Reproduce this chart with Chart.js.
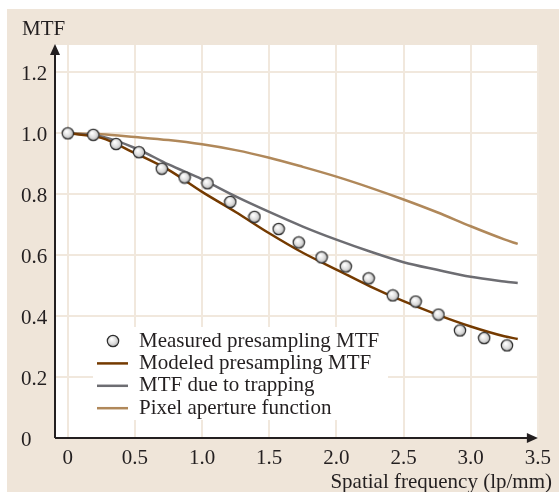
<!DOCTYPE html>
<html>
<head>
<meta charset="utf-8">
<title>MTF</title>
<script src="https://cdn.jsdelivr.net/npm/chart.js@4.4.1/dist/chart.umd.min.js"></script>
<style>
  body { margin: 0; background: #fff; }
  canvas { display: block; }
</style>
</head>
<body>
<canvas id="mtfChart" width="559" height="492"></canvas>
<script>
// Measured presampling MTF (circles)
const measuredX = [0, 0.19, 0.36, 0.53, 0.70, 0.87, 1.04, 1.21, 1.39, 1.57, 1.72, 1.89, 2.07, 2.24, 2.42, 2.59, 2.76, 2.92, 3.10, 3.27];
const measuredY = [1.00, 0.995, 0.965, 0.938, 0.884, 0.855, 0.836, 0.775, 0.726, 0.686, 0.642, 0.593, 0.563, 0.524, 0.468, 0.448, 0.405, 0.353, 0.328, 0.304];

// Curves, read at these frequencies
const curveX = [0, 0.25, 0.5, 0.75, 1.0, 1.25, 1.5, 1.75, 2.0, 2.25, 2.5, 2.75, 3.0, 3.25, 3.35];
const modeledY = [1.0, 0.985, 0.935, 0.88, 0.808, 0.742, 0.672, 0.608, 0.553, 0.498, 0.449, 0.405, 0.366, 0.334, 0.325];
const trappingY = [1.0, 0.99, 0.952, 0.898, 0.849, 0.793, 0.742, 0.694, 0.651, 0.612, 0.577, 0.552, 0.529, 0.514, 0.509];
const apertureY = [1.0, 0.997, 0.988, 0.978, 0.964, 0.945, 0.92, 0.89, 0.858, 0.822, 0.783, 0.741, 0.695, 0.652, 0.637];

const seriesLabels = ['Measured presampling MTF', 'Modeled presampling MTF', 'MTF due to trapping', 'Pixel aperture function'];
const xTicks = [0, 0.5, 1.0, 1.5, 2.0, 2.5, 3.0, 3.5];
const yTicks = [0, 0.2, 0.4, 0.6, 0.8, 1.0, 1.2];

const FONT = '"Liberation Serif", "Times New Roman", serif';
const INK = '#231f20';

function toPoints(xs, ys) {
    return xs.map((x, i) => ({ x: x, y: ys[i] }));
}

function tickText(v) {
    return v === 0 ? '0' : v.toFixed(1);
}

// shaded sphere marker
function makeMarker() {
    const c = document.createElement('canvas');
    c.width = 14;
    c.height = 14;
    const g = c.getContext('2d');
    const grad = g.createRadialGradient(5.5, 5, 0.5, 7, 7, 6);
    grad.addColorStop(0, '#ffffff');
    grad.addColorStop(0.6, '#dcdcdc');
    grad.addColorStop(1, '#a5a5a5');
    g.beginPath();
    g.arc(7, 7, 5.7, 0, Math.PI * 2);
    g.fillStyle = grad;
    g.fill();
    g.lineWidth = 1.2;
    g.strokeStyle = '#2e2e2e';
    g.stroke();
    return c;
}
const marker = makeMarker();

// beige frame and white plot area
const backdrop = {
    id: 'backdrop',
    beforeDraw(chart) {
        const ctx = chart.ctx;
        const a = chart.chartArea;
        ctx.save();
        ctx.fillStyle = '#efe5d9';
        ctx.fillRect(7, 9, chart.width - 7, chart.height - 9);
        ctx.fillStyle = '#ffffff';
        ctx.fillRect(a.left, a.top, a.right - a.left, a.bottom - a.top);
        ctx.restore();
    }
};

// axis lines with arrows, titles, legend box
const decorations = {
    id: 'decorations',
    beforeDatasetsDraw(chart) {
        const ctx = chart.ctx;
        const a = chart.chartArea;
        ctx.save();
        // legend backing
        ctx.fillStyle = '#ffffff';
        ctx.fillRect(93, 327, 295, 93);

        ctx.strokeStyle = INK;
        ctx.fillStyle = INK;
        ctx.lineWidth = 2;
        ctx.beginPath();
        ctx.moveTo(a.left, a.bottom);
        ctx.lineTo(a.left, a.top + 8);
        ctx.moveTo(a.left, a.bottom);
        ctx.lineTo(a.right - 8, a.bottom);
        ctx.stroke();
        ctx.beginPath();
        ctx.moveTo(a.left, a.top - 1);
        ctx.lineTo(a.left - 5, a.top + 10);
        ctx.lineTo(a.left + 5, a.top + 10);
        ctx.closePath();
        ctx.fill();
        ctx.beginPath();
        ctx.moveTo(a.right, a.bottom);
        ctx.lineTo(a.right - 11, a.bottom - 5);
        ctx.lineTo(a.right - 11, a.bottom + 5);
        ctx.closePath();
        ctx.fill();

        ctx.font = '21px ' + FONT;
        ctx.textBaseline = 'middle';
        ctx.textAlign = 'left';
        ctx.fillText('MTF', 22, 29);
        ctx.textAlign = 'right';
        ctx.fillText('Spatial frequency (lp/mm)', 552, 482);
        ctx.restore();
    },
    afterDatasetsDraw(chart) {
        const ctx = chart.ctx;
        ctx.save();
        ctx.font = '21px ' + FONT;
        ctx.textBaseline = 'middle';
        ctx.textAlign = 'left';
        chart.data.datasets.forEach((ds, i) => {
            const y = 341 + i * 22.4;
            if (ds.pointStyle instanceof HTMLCanvasElement) {
                ctx.drawImage(ds.pointStyle, 113 - 7, y - 7);
            } else {
                ctx.strokeStyle = ds.borderColor;
                ctx.lineWidth = 2.5;
                ctx.beginPath();
                ctx.moveTo(97, y);
                ctx.lineTo(128, y);
                ctx.stroke();
            }
            ctx.fillStyle = INK;
            ctx.fillText(ds.label, 139, y);
        });
        ctx.restore();
    }
};

function lineSet(label, ys, color) {
    return {
        label: label,
        data: toPoints(curveX, ys),
        borderColor: color,
        borderWidth: 2.5,
        pointRadius: 0,
        fill: false,
        cubicInterpolationMode: 'monotone'
    };
}

new Chart(document.getElementById('mtfChart'), {
    type: 'line',
    data: {
        datasets: [
            {
                label: seriesLabels[0],
                data: toPoints(measuredX, measuredY),
                showLine: false,
                pointStyle: marker,
                pointRadius: 6
            },
            lineSet(seriesLabels[1], modeledY, '#743a00'),
            lineSet(seriesLabels[2], trappingY, '#6d6d72'),
            lineSet(seriesLabels[3], apertureY, '#b0885a')
        ]
    },
    options: {
        responsive: false,
        animation: false,
        events: [],
        layout: { padding: { left: 21, top: 45, right: 15, bottom: 0 } },
        plugins: {
            legend: { display: false },
            tooltip: { enabled: false }
        },
        scales: {
            x: {
                type: 'linear',
                min: -0.095,
                max: 3.5,
                afterFit(s) { s.height = 54; },
                afterBuildTicks(s) { s.ticks = xTicks.map(v => ({ value: v })); },
                border: { display: false },
                grid: { color: '#f1e8dd', lineWidth: 2, drawTicks: false },
                ticks: {
                    padding: 8,
                    maxRotation: 0,
                    color: INK,
                    font: { family: FONT, size: 21 },
                    callback: v => tickText(v)
                }
            },
            y: {
                min: 0,
                max: 1.29,
                afterFit(s) { s.width = 34; },
                afterBuildTicks(s) { s.ticks = yTicks.map(v => ({ value: v })); },
                border: { display: false },
                grid: { color: '#f1e8dd', lineWidth: 2, drawTicks: false },
                ticks: {
                    crossAlign: 'far',
                    padding: 0,
                    labelOffset: 2,
                    color: INK,
                    font: { family: FONT, size: 21 },
                    callback: v => tickText(v)
                }
            }
        }
    },
    plugins: [backdrop, decorations]
});
</script>
</body>
</html>
